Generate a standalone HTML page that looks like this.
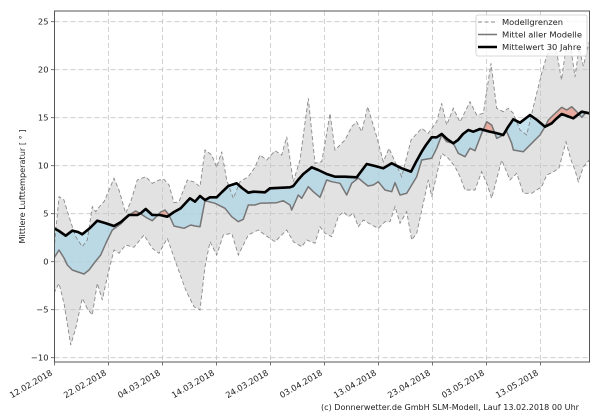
<!DOCTYPE html>
<html>
<head>
<meta charset="utf-8">
<style>
html,body{margin:0;padding:0;background:#fff;}
svg{display:block;}
text{font-family:"DejaVu Sans","Liberation Sans",sans-serif;fill:#222;}
</style>
</head>
<body>
<svg width="600" height="420" viewBox="0 0 600 420" xmlns="http://www.w3.org/2000/svg">
<defs>
<clipPath id="ax"><rect x="54.5" y="11" width="535" height="351"/></clipPath>
<clipPath id="below"><polygon points="54,228.3 59,231 65.7,235.7 72.3,230.7 78,232 82.3,234.3 90,228 97.3,220.7 105,223 114,226 121,222 129,215 137.3,215 141,213 145.7,209 152.3,215 160,215 167.3,216.7 174,212 180.7,208.3 190,198.3 195,201.7 200,196 205,200 210,197.3 216.7,197.3 222,192 228.3,186 236.7,183.3 242,188 248.3,192.7 253.3,191.7 265,192.3 270,188.3 290,187.3 293.3,186 298,180 303.3,174 311.7,167.3 318.3,170 326.7,174 335,176.7 345,176.7 356.7,177.3 366.7,164 375,166 383.3,168.3 391.7,163.3 401.7,168.3 411,171.7 416,162 421.7,151.7 426,145 431.7,137.3 436.7,137.3 441.7,134 447,139 453.3,143.3 458,140 463,134 468.3,130 473.3,131.7 480,129 490,131.7 496,133 503.3,135 508,127 513.3,119.3 520,122.7 530,115 537,120 545,126.7 551.7,123.3 556,119 561.7,114 567,116 573.3,118.3 581.7,111.7 589.3,113.3 600,113.3 600,420 40,420 40,228.3"/></clipPath>
<clipPath id="above"><polygon points="54,228.3 59,231 65.7,235.7 72.3,230.7 78,232 82.3,234.3 90,228 97.3,220.7 105,223 114,226 121,222 129,215 137.3,215 141,213 145.7,209 152.3,215 160,215 167.3,216.7 174,212 180.7,208.3 190,198.3 195,201.7 200,196 205,200 210,197.3 216.7,197.3 222,192 228.3,186 236.7,183.3 242,188 248.3,192.7 253.3,191.7 265,192.3 270,188.3 290,187.3 293.3,186 298,180 303.3,174 311.7,167.3 318.3,170 326.7,174 335,176.7 345,176.7 356.7,177.3 366.7,164 375,166 383.3,168.3 391.7,163.3 401.7,168.3 411,171.7 416,162 421.7,151.7 426,145 431.7,137.3 436.7,137.3 441.7,134 447,139 453.3,143.3 458,140 463,134 468.3,130 473.3,131.7 480,129 490,131.7 496,133 503.3,135 508,127 513.3,119.3 520,122.7 530,115 537,120 545,126.7 551.7,123.3 556,119 561.7,114 567,116 573.3,118.3 581.7,111.7 589.3,113.3 600,113.3 600,0 40,0 40,228.3"/></clipPath>
</defs>

<rect x="0" y="0" width="600" height="420" fill="#fff"/>

<g clip-path="url(#ax)">
  <polygon fill="#e2e2e2" points="54,250 59,196.7 64,200 69,216.7 75.7,236.7 82.3,246.7 87.3,240 92.3,206.7 95.7,211.7 100,206 104,201.7 109,190 114,178.3 119,190 125.7,213.3 130.7,201.7 137.3,180 145.7,176.7 152.3,183.3 159,180 164,179.3 169,185 174,202.7 179,201.7 187.3,180 194,182 200,186.7 205,150 211.7,155 216.7,167.3 221.7,151.7 226.7,180 233.3,198.3 240,181.7 248.3,176.7 255,167.3 260,155 266.7,160 275,150.7 281.7,155 286.7,136.7 293.3,181.7 300,160 308.3,98.3 315,163.3 321.7,161.7 325,143.3 330,113.3 335,150 345,140 351.7,126.7 356.7,121.7 361.7,131.7 367.7,106.7 376.7,136.7 383.3,161.7 389,148.3 395,161.7 401.7,176.7 411,140 421.7,128.3 428.3,133.3 436.7,121.7 441.7,103.3 446.7,125 453.3,108.3 460,122 470,101.7 476.7,115 483.3,113.3 491,63.3 496.7,108.3 503.3,111.7 508.3,108.3 513.3,113.3 520,130 526.7,135 535,100 541.7,73.3 546.7,56 551.7,45 556.7,52 561.5,80 566,48 570,42 575,77 579,48 583.3,66 586,55 589.3,42 589.3,160 583.3,167 578.3,181.7 575,170 571,160 566,142 559,168 553.3,172 546.7,175 541.7,186.7 531.7,193.3 523.3,193.3 516.7,173.3 510,180 501.7,160 491.7,198.3 486.7,183.3 481.7,171.7 475,190 465,190 460,176.7 455,166.7 448.3,158.3 441.7,153.3 431.7,196.7 428.3,180 423.3,203.3 416.7,233.3 411.7,240 406.7,211.7 400,223.3 395,206.7 390,221.7 385,221.7 378.3,228.3 371.7,225 363.3,220 358.3,226.7 353.3,213.3 348.3,216.7 343.3,211.7 338.3,216.7 331.7,236.7 325,233.3 320,226.7 315,243.3 306.7,240 301.7,246.7 293.3,241.7 286.7,230 275,241.7 265,235 258.3,230 248.3,235 238.3,255 231.7,233.3 223.3,235 216.7,255 210,241.7 205,266.7 200,310 194,306.7 185.7,290 177.3,266.7 167.3,238.3 159,253.3 152.3,248.3 144,235 134,247.3 125.7,245 119,253.3 114,250 107.3,276.7 102.3,300 97.3,283.3 92.3,315 87,308 82.3,298.3 75.7,328.3 70.7,345 64,303.3 59,283.3 54,293.3"/>

  <g stroke="#c6c6c6" stroke-width="0.8" stroke-dasharray="5,3" fill="none">
    <line x1="54.5" y1="21.7" x2="589.5" y2="21.7"/>
    <line x1="54.5" y1="69.7" x2="589.5" y2="69.7"/>
    <line x1="54.5" y1="117.7" x2="589.5" y2="117.7"/>
    <line x1="54.5" y1="165.7" x2="589.5" y2="165.7"/>
    <line x1="54.5" y1="213.7" x2="589.5" y2="213.7"/>
    <line x1="54.5" y1="261.7" x2="589.5" y2="261.7"/>
    <line x1="54.5" y1="309.7" x2="589.5" y2="309.7"/>
    <line x1="54.5" y1="357.7" x2="589.5" y2="357.7"/>
    <line x1="108.5" y1="11" x2="108.5" y2="362"/>
    <line x1="162.5" y1="11" x2="162.5" y2="362"/>
    <line x1="216.5" y1="11" x2="216.5" y2="362"/>
    <line x1="270.5" y1="11" x2="270.5" y2="362"/>
    <line x1="324.5" y1="11" x2="324.5" y2="362"/>
    <line x1="378.5" y1="11" x2="378.5" y2="362"/>
    <line x1="432.5" y1="11" x2="432.5" y2="362"/>
    <line x1="486.5" y1="11" x2="486.5" y2="362"/>
    <line x1="540.5" y1="11" x2="540.5" y2="362"/>
  </g>

  <g clip-path="url(#below)">
    <polygon fill="#a6d3e6" fill-opacity="0.65" points="54,228.3 59,231 65.7,235.7 72.3,230.7 78,232 82.3,234.3 90,228 97.3,220.7 105,223 114,226 121,222 129,215 137.3,215 141,213 145.7,209 152.3,215 160,215 167.3,216.7 174,212 180.7,208.3 190,198.3 195,201.7 200,196 205,200 210,197.3 216.7,197.3 222,192 228.3,186 236.7,183.3 242,188 248.3,192.7 253.3,191.7 265,192.3 270,188.3 290,187.3 293.3,186 298,180 303.3,174 311.7,167.3 318.3,170 326.7,174 335,176.7 345,176.7 356.7,177.3 366.7,164 375,166 383.3,168.3 391.7,163.3 401.7,168.3 411,171.7 416,162 421.7,151.7 426,145 431.7,137.3 436.7,137.3 441.7,134 447,139 453.3,143.3 458,140 463,134 468.3,130 473.3,131.7 480,129 490,131.7 496,133 503.3,135 508,127 513.3,119.3 520,122.7 530,115 537,120 545,126.7 551.7,123.3 556,119 561.7,114 567,116 573.3,118.3 581.7,111.7 589.3,113.3 589.3,114 586.7,112 581.7,117.3 576.7,111.7 571.7,106.7 566.7,110 561.7,107.3 553.3,115 548.3,120 545,126.7 540,135 533.3,141.7 523.3,151.7 513.3,150 511.7,143.3 506,130 501.7,136 496.7,138.3 491.7,125 486.7,121.7 481.7,133.3 475,150.7 470,148.3 465,156.7 458.3,153.3 453.3,143.3 446.7,141.7 441.7,135 436.7,148.3 431.7,158.3 421.7,160 416.7,176.7 406.7,193.3 400,195 395,182.7 391.7,191.7 385,190 378.3,181.7 373.3,185 368,186 363,182 358.3,178 351.7,183.3 346.7,195 340,183.3 331.7,181.7 326.7,180 320,197.3 313.3,191.7 308.3,186.7 301.7,198.3 298.3,195 291.7,210 290,205 283.3,200.7 276.7,202.7 260,203.3 255,205 248.3,205 243.3,219.3 238.3,221.7 231.7,216.7 225,208.3 215,203.3 210,202 205,200.7 200,226.7 195,226 190.7,225 184,228.3 174,226 169,215 165,210 160.7,212 156,217 152.3,220.7 147,218 141,214 135.7,211 129,215 120.7,224 112.3,230 106,243 100.7,255 95,262 89,270 84,274 78,272 72.3,270 67.3,265 64,258 59,250 54,258"/>
  </g>
  <g clip-path="url(#above)">
    <polygon fill="#e89a88" fill-opacity="0.75" points="54,228.3 59,231 65.7,235.7 72.3,230.7 78,232 82.3,234.3 90,228 97.3,220.7 105,223 114,226 121,222 129,215 137.3,215 141,213 145.7,209 152.3,215 160,215 167.3,216.7 174,212 180.7,208.3 190,198.3 195,201.7 200,196 205,200 210,197.3 216.7,197.3 222,192 228.3,186 236.7,183.3 242,188 248.3,192.7 253.3,191.7 265,192.3 270,188.3 290,187.3 293.3,186 298,180 303.3,174 311.7,167.3 318.3,170 326.7,174 335,176.7 345,176.7 356.7,177.3 366.7,164 375,166 383.3,168.3 391.7,163.3 401.7,168.3 411,171.7 416,162 421.7,151.7 426,145 431.7,137.3 436.7,137.3 441.7,134 447,139 453.3,143.3 458,140 463,134 468.3,130 473.3,131.7 480,129 490,131.7 496,133 503.3,135 508,127 513.3,119.3 520,122.7 530,115 537,120 545,126.7 551.7,123.3 556,119 561.7,114 567,116 573.3,118.3 581.7,111.7 589.3,113.3 589.3,114 586.7,112 581.7,117.3 576.7,111.7 571.7,106.7 566.7,110 561.7,107.3 553.3,115 548.3,120 545,126.7 540,135 533.3,141.7 523.3,151.7 513.3,150 511.7,143.3 506,130 501.7,136 496.7,138.3 491.7,125 486.7,121.7 481.7,133.3 475,150.7 470,148.3 465,156.7 458.3,153.3 453.3,143.3 446.7,141.7 441.7,135 436.7,148.3 431.7,158.3 421.7,160 416.7,176.7 406.7,193.3 400,195 395,182.7 391.7,191.7 385,190 378.3,181.7 373.3,185 368,186 363,182 358.3,178 351.7,183.3 346.7,195 340,183.3 331.7,181.7 326.7,180 320,197.3 313.3,191.7 308.3,186.7 301.7,198.3 298.3,195 291.7,210 290,205 283.3,200.7 276.7,202.7 260,203.3 255,205 248.3,205 243.3,219.3 238.3,221.7 231.7,216.7 225,208.3 215,203.3 210,202 205,200.7 200,226.7 195,226 190.7,225 184,228.3 174,226 169,215 165,210 160.7,212 156,217 152.3,220.7 147,218 141,214 135.7,211 129,215 120.7,224 112.3,230 106,243 100.7,255 95,262 89,270 84,274 78,272 72.3,270 67.3,265 64,258 59,250 54,258"/>
  </g>

  <g fill="none" stroke="#8a8a8a" stroke-width="0.9" stroke-dasharray="4,2.5">
    <polyline points="54,250 59,196.7 64,200 69,216.7 75.7,236.7 82.3,246.7 87.3,240 92.3,206.7 95.7,211.7 100,206 104,201.7 109,190 114,178.3 119,190 125.7,213.3 130.7,201.7 137.3,180 145.7,176.7 152.3,183.3 159,180 164,179.3 169,185 174,202.7 179,201.7 187.3,180 194,182 200,186.7 205,150 211.7,155 216.7,167.3 221.7,151.7 226.7,180 233.3,198.3 240,181.7 248.3,176.7 255,167.3 260,155 266.7,160 275,150.7 281.7,155 286.7,136.7 293.3,181.7 300,160 308.3,98.3 315,163.3 321.7,161.7 325,143.3 330,113.3 335,150 345,140 351.7,126.7 356.7,121.7 361.7,131.7 367.7,106.7 376.7,136.7 383.3,161.7 389,148.3 395,161.7 401.7,176.7 411,140 421.7,128.3 428.3,133.3 436.7,121.7 441.7,103.3 446.7,125 453.3,108.3 460,122 470,101.7 476.7,115 483.3,113.3 491,63.3 496.7,108.3 503.3,111.7 508.3,108.3 513.3,113.3 520,130 526.7,135 535,100 541.7,73.3 546.7,56 551.7,45 556.7,52 561.5,80 566,48 570,42 575,77 579,48 583.3,66 586,55 589.3,42"/>
    <polyline points="54,293.3 59,283.3 64,303.3 70.7,345 75.7,328.3 82.3,298.3 87,308 92.3,315 97.3,283.3 102.3,300 107.3,276.7 114,250 119,253.3 125.7,245 134,247.3 144,235 152.3,248.3 159,253.3 167.3,238.3 177.3,266.7 185.7,290 194,306.7 200,310 205,266.7 210,241.7 216.7,255 223.3,235 231.7,233.3 238.3,255 248.3,235 258.3,230 265,235 275,241.7 286.7,230 293.3,241.7 301.7,246.7 306.7,240 315,243.3 320,226.7 325,233.3 331.7,236.7 338.3,216.7 343.3,211.7 348.3,216.7 353.3,213.3 358.3,226.7 363.3,220 371.7,225 378.3,228.3 385,221.7 390,221.7 395,206.7 400,223.3 406.7,211.7 411.7,240 416.7,233.3 423.3,203.3 428.3,180 431.7,196.7 441.7,153.3 448.3,158.3 455,166.7 460,176.7 465,190 475,190 481.7,171.7 486.7,183.3 491.7,198.3 501.7,160 510,180 516.7,173.3 523.3,193.3 531.7,193.3 541.7,186.7 546.7,175 553.3,172 559,168 566,142 571,160 575,170 578.3,181.7 583.3,167 589.3,160"/>
  </g>

  <polyline fill="none" stroke="#767676" stroke-width="1.5" stroke-linejoin="round" points="54,258 59,250 64,258 67.3,265 72.3,270 78,272 84,274 89,270 95,262 100.7,255 106,243 112.3,230 120.7,224 129,215 135.7,211 141,214 147,218 152.3,220.7 156,217 160.7,212 165,210 169,215 174,226 184,228.3 190.7,225 195,226 200,226.7 205,200.7 210,202 215,203.3 225,208.3 231.7,216.7 238.3,221.7 243.3,219.3 248.3,205 255,205 260,203.3 276.7,202.7 283.3,200.7 290,205 291.7,210 298.3,195 301.7,198.3 308.3,186.7 313.3,191.7 320,197.3 326.7,180 331.7,181.7 340,183.3 346.7,195 351.7,183.3 358.3,178 363,182 368,186 373.3,185 378.3,181.7 385,190 391.7,191.7 395,182.7 400,195 406.7,193.3 416.7,176.7 421.7,160 431.7,158.3 436.7,148.3 441.7,135 446.7,141.7 453.3,143.3 458.3,153.3 465,156.7 470,148.3 475,150.7 481.7,133.3 486.7,121.7 491.7,125 496.7,138.3 501.7,136 506,130 511.7,143.3 513.3,150 523.3,151.7 533.3,141.7 540,135 545,126.7 548.3,120 553.3,115 561.7,107.3 566.7,110 571.7,106.7 576.7,111.7 581.7,117.3 586.7,112 589.3,114"/>

  <polyline fill="none" stroke="#000" stroke-width="2.6" stroke-linejoin="round" points="54,228.3 59,231 65.7,235.7 72.3,230.7 78,232 82.3,234.3 90,228 97.3,220.7 105,223 114,226 121,222 129,215 137.3,215 141,213 145.7,209 152.3,215 160,215 167.3,216.7 174,212 180.7,208.3 190,198.3 195,201.7 200,196 205,200 210,197.3 216.7,197.3 222,192 228.3,186 236.7,183.3 242,188 248.3,192.7 253.3,191.7 265,192.3 270,188.3 290,187.3 293.3,186 298,180 303.3,174 311.7,167.3 318.3,170 326.7,174 335,176.7 345,176.7 356.7,177.3 366.7,164 375,166 383.3,168.3 391.7,163.3 401.7,168.3 411,171.7 416,162 421.7,151.7 426,145 431.7,137.3 436.7,137.3 441.7,134 447,139 453.3,143.3 458,140 463,134 468.3,130 473.3,131.7 480,129 490,131.7 496,133 503.3,135 508,127 513.3,119.3 520,122.7 530,115 537,120 545,126.7 551.7,123.3 556,119 561.7,114 567,116 573.3,118.3 581.7,111.7 589.3,113.3"/>
</g>

<rect x="54.5" y="11" width="535" height="351" fill="none" stroke="#555" stroke-width="1"/>

<g stroke="#555" stroke-width="0.8">
  <line x1="51" y1="21.7" x2="54.5" y2="21.7"/>
  <line x1="51" y1="69.7" x2="54.5" y2="69.7"/>
  <line x1="51" y1="117.7" x2="54.5" y2="117.7"/>
  <line x1="51" y1="165.7" x2="54.5" y2="165.7"/>
  <line x1="51" y1="213.7" x2="54.5" y2="213.7"/>
  <line x1="51" y1="261.7" x2="54.5" y2="261.7"/>
  <line x1="51" y1="309.7" x2="54.5" y2="309.7"/>
  <line x1="51" y1="357.7" x2="54.5" y2="357.7"/>
  <line x1="54.5" y1="362" x2="54.5" y2="365.5"/>
  <line x1="108.5" y1="362" x2="108.5" y2="365.5"/>
  <line x1="162.5" y1="362" x2="162.5" y2="365.5"/>
  <line x1="216.5" y1="362" x2="216.5" y2="365.5"/>
  <line x1="270.5" y1="362" x2="270.5" y2="365.5"/>
  <line x1="324.5" y1="362" x2="324.5" y2="365.5"/>
  <line x1="378.5" y1="362" x2="378.5" y2="365.5"/>
  <line x1="432.5" y1="362" x2="432.5" y2="365.5"/>
  <line x1="486.5" y1="362" x2="486.5" y2="365.5"/>
  <line x1="540.5" y1="362" x2="540.5" y2="365.5"/>
</g>

<g font-size="8.33" text-anchor="end">
  <text x="48.5" y="24.7">25</text>
  <text x="48.5" y="72.7">20</text>
  <text x="48.5" y="120.7">15</text>
  <text x="48.5" y="168.7">10</text>
  <text x="48.5" y="216.7">5</text>
  <text x="48.5" y="264.7">0</text>
  <text x="48.5" y="312.7">−5</text>
  <text x="48.5" y="360.7">−10</text>
</g>

<g font-size="8.33" text-anchor="end">
  <text transform="translate(53,374.5) rotate(-30)">12.02.2018</text>
  <text transform="translate(107,374.5) rotate(-30)">22.02.2018</text>
  <text transform="translate(161,374.5) rotate(-30)">04.03.2018</text>
  <text transform="translate(215,374.5) rotate(-30)">14.03.2018</text>
  <text transform="translate(269,374.5) rotate(-30)">24.03.2018</text>
  <text transform="translate(323,374.5) rotate(-30)">03.04.2018</text>
  <text transform="translate(377,374.5) rotate(-30)">13.04.2018</text>
  <text transform="translate(431,374.5) rotate(-30)">23.04.2018</text>
  <text transform="translate(485,374.5) rotate(-30)">03.05.2018</text>
  <text transform="translate(539,374.5) rotate(-30)">13.05.2018</text>
</g>

<text font-size="8.33" text-anchor="middle" transform="translate(25,186.5) rotate(-90)" textLength="114" lengthAdjust="spacingAndGlyphs">Mittlere Lufttemperatur [ ° ]</text>

<rect x="476" y="15" width="111" height="41" rx="2" ry="2" fill="#fff" fill-opacity="0.8" stroke="#cccccc" stroke-width="0.8"/>
<line x1="478" y1="22" x2="497" y2="22" stroke="#8a8a8a" stroke-width="1" stroke-dasharray="4,2.5"/>
<line x1="478" y1="34.5" x2="497" y2="34.5" stroke="#767676" stroke-width="1.5"/>
<line x1="478" y1="47" x2="497" y2="47" stroke="#000" stroke-width="2.6"/>
<g font-size="8.33">
  <text x="502" y="25">Modellgrenzen</text>
  <text x="502" y="37.5" textLength="80" lengthAdjust="spacingAndGlyphs">Mittel aller Modelle</text>
  <text x="502" y="50">Mittelwert 30 Jahre</text>
</g>

<text x="321" y="410" font-size="8.33" textLength="258" lengthAdjust="spacingAndGlyphs">(c) Donnerwetter.de GmbH SLM-Modell, Lauf 13.02.2018 00 Uhr</text>
</svg>
</body>
</html>
